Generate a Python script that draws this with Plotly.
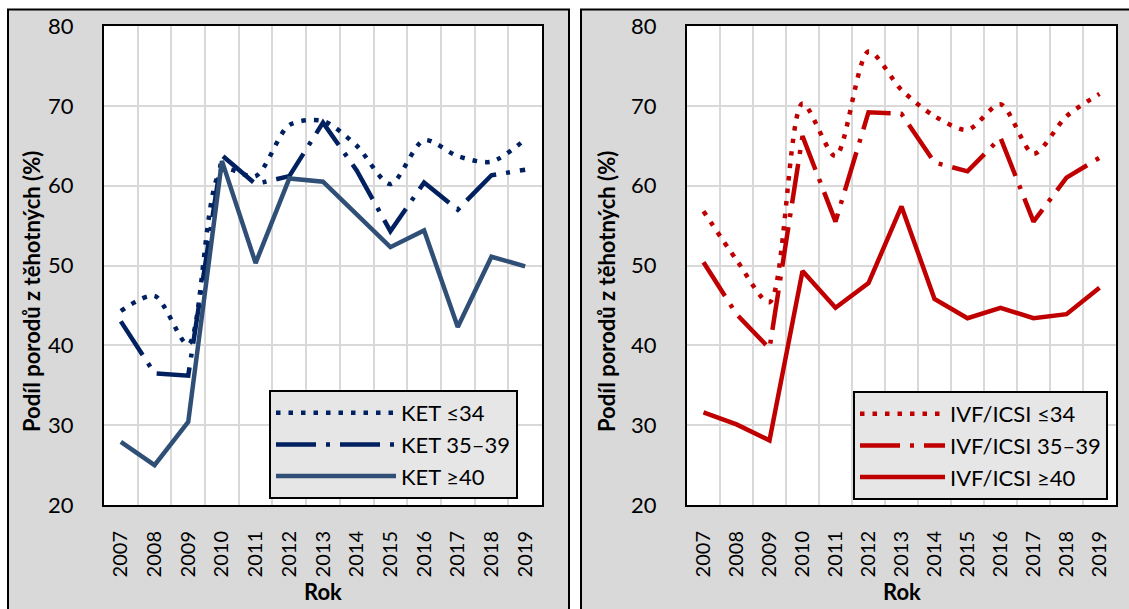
import plotly.graph_objects as go

years = [str(y) for y in range(2007, 2020)]

ket_34 = [44.3, 46.2, 40.1, 62.0, 61.2, 67.6, 68.1, 65.0, 60.2, 65.7, 63.7, 63.0, 65.8]
ket_35_39 = [43.0, 36.5, 36.2, 63.8, 60.2, 61.2, 67.9, 61.9, 54.3, 60.4, 57.0, 61.3, 62.0]
ket_40 = [27.9, 25.0, 30.4, 63.1, 50.3, 60.9, 60.5, 56.4, 52.3, 54.4, 42.3, 51.1, 49.9]

ivf_34 = [56.8, 50.7, 45.4, 70.3, 63.7, 76.8, 72.0, 68.7, 67.0, 70.2, 64.0, 68.7, 71.5]
ivf_35_39 = [50.4, 43.9, 39.6, 66.2, 55.5, 69.2, 69.0, 62.9, 61.8, 66.0, 55.5, 61.0, 63.5]
ivf_40 = [31.6, 30.1, 28.1, 49.3, 44.7, 47.8, 57.4, 45.8, 43.4, 44.7, 43.4, 43.9, 47.2]

names_ket = ["KET ≤34", "KET 35–39", "KET ≥40"]
names_ivf = ["IVF/ICSI ≤34", "IVF/ICSI 35–39", "IVF/ICSI ≥40"]

y_ticks = [20, 30, 40, 50, 60, 70, 80]
x_title = "Rok"
y_title = "Podíl porodů z těhotných (%)"

W, H = 1129, 609
NAVY = "#002060"
STEEL = "#2F4F77"
RED = "#C00000"
FONT = "Lato"
LW = 4.5
DOT = "4.5px,8px"
LDD = "40px,10px,4px,10px"

# pixel layout
L_x = (104 / W, 542 / W)
R_x = (687 / W, 1116 / W)
P_y = (1 - 505 / H, 1 - 26 / H)

fig = go.Figure()

def add(xaxis, yaxis, y, name, color, dash, shape, legend, group):
    fig.add_trace(go.Scatter(
        x=years, y=y, name=name, mode="lines", xaxis=xaxis, yaxis=yaxis,
        line=dict(color=color, width=LW, dash=dash, shape=shape, smoothing=0.8 if shape == "spline" else None),
        legend=legend, legendgroup=group, hoverinfo="x+y+name"))

add("x", "y", ket_34, names_ket[0], NAVY, DOT, "spline", "legend", "a")
add("x", "y", ket_35_39, names_ket[1], NAVY, LDD, "linear", "legend", "b")
add("x", "y", ket_40, names_ket[2], STEEL, "solid", "linear", "legend", "c")
add("x2", "y2", ivf_34, names_ivf[0], RED, DOT, "spline", "legend2", "d")
add("x2", "y2", ivf_35_39, names_ivf[1], RED, LDD, "linear", "legend2", "e")
add("x2", "y2", ivf_40, names_ivf[2], RED, "solid", "linear", "legend2", "f")

xcommon = dict(
    type="category", range=[-0.5, 12.5], tickson="boundaries", showgrid=True,
    gridcolor="#D9D9D9", gridwidth=1.5, showline=True, mirror=True, linecolor="black",
    linewidth=2, ticks="", tickangle=-90, tickfont=dict(family=FONT, size=20, color="black"),
    ticklabelstandoff=16, automargin=False, zeroline=False,
)
ycommon = dict(
    range=[20, 80], tickvals=y_ticks, showgrid=True, gridcolor="#D9D9D9", gridwidth=1.5,
    showline=True, mirror=True, linecolor="black", linewidth=2, ticks="",
    tickfont=dict(family=FONT, size=22, color="black"), ticklabelstandoff=24,
    automargin=False, zeroline=False,
)

legcommon = dict(
    bgcolor="#E7E6E6", bordercolor="black", borderwidth=2,
    font=dict(family=FONT, size=22, color="black"), xanchor="right", yanchor="bottom",
    tracegroupgap=18, traceorder="normal",
)

title_font = dict(family=FONT, size=22, color="black", weight="bold")
annotations = []
for xd, ytx in ((L_x, 31 / W), (R_x, 606 / W)):
    annotations.append(dict(text=x_title, xref="paper", yref="paper", x=(xd[0] + xd[1]) / 2,
                            y=1 - 591 / H, showarrow=False, font=title_font,
                            xanchor="center", yanchor="middle"))
    annotations.append(dict(text=y_title, xref="paper", yref="paper", x=ytx,
                            y=1 - 292 / H, showarrow=False, font=title_font, textangle=-90,
                            xanchor="center", yanchor="middle"))

fig.update_layout(
    width=W, height=H, margin=dict(l=0, r=0, t=0, b=0, autoexpand=False),
    paper_bgcolor="white", plot_bgcolor="rgba(0,0,0,0)",
    showlegend=True,
    xaxis=dict(domain=list(L_x), anchor="y", **xcommon),
    yaxis=dict(domain=list(P_y), anchor="x", **ycommon),
    xaxis2=dict(domain=list(R_x), anchor="y2", **xcommon),
    yaxis2=dict(domain=list(P_y), anchor="x2", **ycommon),
    legend=dict(x=518 / W, y=1 - 499 / H, itemwidth=120, **legcommon),
    legend2=dict(x=1108 / W, y=1 - 500 / H, itemwidth=85, **legcommon),
    annotations=annotations,
    shapes=[
        dict(type="rect", xref="paper", yref="paper", x0=8 / W, x1=569 / W, y0=-0.1, y1=1 - 9.5 / H,
             fillcolor="#D9D9D9", line=dict(color="black", width=2), layer="below"),
        dict(type="rect", xref="paper", yref="paper", x0=581 / W, x1=1.1, y0=-0.1, y1=1 - 9.5 / H,
             fillcolor="#D9D9D9", line=dict(color="black", width=2), layer="below"),
        dict(type="rect", xref="x domain", yref="y domain", x0=0, x1=1, y0=0, y1=1,
             fillcolor="white", line=dict(width=0), layer="below"),
        dict(type="rect", xref="x2 domain", yref="y2 domain", x0=0, x1=1, y0=0, y1=1,
             fillcolor="white", line=dict(width=0), layer="below"),
    ],
)

fig.write_html(
    "out.html",
    config={"displayModeBar": False},
    post_script="document.body.style.margin='0';document.body.style.overflow='hidden';",
)
